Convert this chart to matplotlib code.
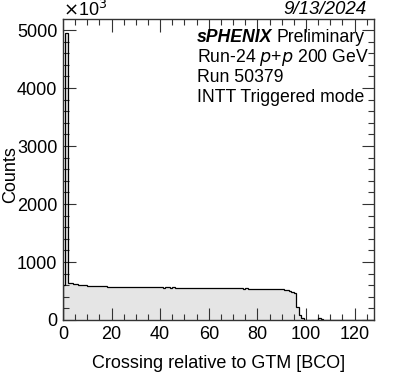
import numpy as np
import matplotlib
matplotlib.use("Agg")
import matplotlib.pyplot as plt
from matplotlib.ticker import MultipleLocator

# Histogram data: bin edges 0..128, width 1
bin_edges = list(range(0, 129))
counts = [
    610, 4950, 640, 632, 626, 620, 612, 606, 600, 596,   # 0-9
    592, 588, 585, 584, 582, 580, 578, 578, 576, 574,    # 10-19
    575, 572, 574, 570, 568, 572, 568, 566, 570, 567,    # 20-29
    566, 568, 565, 567, 566, 563, 565, 566, 562, 564,    # 30-39
    562, 560, 563, 562, 558, 561, 560, 558, 560, 557,    # 40-49
    557, 556, 558, 555, 556, 553, 555, 554, 552, 553,    # 50-59
    551, 552, 550, 551, 548, 550, 549, 547, 548, 546,    # 60-69
    547, 545, 544, 546, 543, 544, 542, 543, 540, 541,    # 70-79
    540, 538, 539, 537, 538, 536, 535, 534, 533, 530,    # 80-89
    527, 522, 515, 505, 490, 470, 230, 86, 35, 0,        # 90-99
    0, 0, 0, 0, 0, 40, 20, 0, 0, 0,                      # 100-109
] + [0] * 18

plt.rcParams['font.family'] = ['Liberation Sans', 'DejaVu Sans']

fig = plt.figure(figsize=(3.93, 3.81), dpi=100)
ax = fig.add_axes([63/393, 1-320/381, (374-63)/393, (320-19)/381])

ax.stairs(counts, bin_edges, fill=True, color='#e5e5e5', zorder=1)
ax.stairs(counts, bin_edges, fill=False, color='black', linewidth=0.9, zorder=2)

ax.set_xlim(0, 128)
ax.set_ylim(0, 5190)

ax.xaxis.set_major_locator(MultipleLocator(20))
ax.xaxis.set_minor_locator(MultipleLocator(5))
ax.yaxis.set_major_locator(MultipleLocator(1000))
ax.yaxis.set_minor_locator(MultipleLocator(200))
ax.tick_params(which='both', direction='in', top=True, right=True, width=0.8, color='#333333')
ax.tick_params(which='major', length=9, labelsize=13, pad=4)
ax.tick_params(which='minor', length=4.5)
for s in ax.spines.values():
    s.set_linewidth(1.0)
    s.set_color('#333333')

ax.set_xlabel('Crossing relative to GTM [BCO]', fontsize=13, labelpad=9)
fig.text(11/393, 1-175/381, 'Counts', fontsize=13, rotation=90, ha='center', va='center')

fig.text(63/393, 1-10/381, r'$\times$10$^3$', fontsize=13, ha='left', va='center')
fig.text(366/393, 1-9.5/381, '9/13/2024', fontsize=13.5, style='italic', ha='right', va='center')

tx = 197/393
fig.text(tx, 1-37/381, 'sPHENIX', fontsize=12.7, fontweight='bold', style='italic', ha='left', va='center')
fig.text(276/393, 1-37/381, 'Preliminary', fontsize=12.7, ha='left', va='center')
fig.text(tx, 1-57/381, r'Run-24 $\it{p}$+$\it{p}$ 200 GeV', fontsize=12.7, ha='left', va='center')
fig.text(tx, 1-77/381, 'Run 50379', fontsize=12.7, ha='left', va='center')
fig.text(tx, 1-97/381, 'INTT Triggered mode', fontsize=12.7, ha='left', va='center')

fig.savefig('out.png', dpi=100)
